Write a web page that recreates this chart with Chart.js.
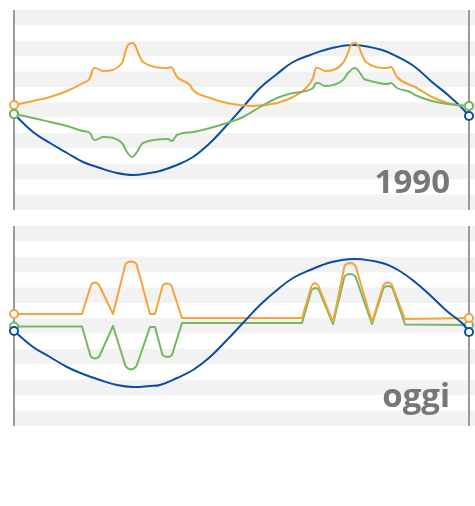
<!DOCTYPE html>
<html>
<head>
<meta charset="utf-8">
<script src="https://cdn.jsdelivr.net/npm/chart.js@4.4.1/dist/chart.umd.min.js"></script>
<style>
  html, body { margin: 0; padding: 0; background: #fff; }
  .panel { position: absolute; left: 0; width: 475px; height: 218px; }
</style>
</head>
<body>
<div class="panel" style="top:0"><canvas id="c1990"></canvas></div>
<div class="panel" style="top:216px"><canvas id="cOggi"></canvas></div>
<script>
// x runs 0..91, y runs 0..100 in each panel
const orange1990 = [[0,52.5],[3.8,54.5],[7.2,56.5],[10.6,59.5],[13.8,63.5],[15.2,66],[15.8,70.5],[16.2,71],[17.8,69.5],
  [21.6,73.5],[22.2,78.5],[22.8,82.5],[23.6,83.5],[24.2,82.5],[25,77.5],[25.8,74],[30.8,71],[31.4,71.5],[32.6,66.5],
  [35.2,62.5],[35.8,60],[39.2,56],[42.6,53.5],[47.8,52],[52.6,53.5],[55.8,56.5],[58.6,61.5],[59.8,66],[60.4,71],
  [60.8,71],[62.2,69.5],[65.8,73.5],[66.8,78.5],[67.4,82.5],[68.2,83.5],[68.8,82.5],[69.6,77.5],[70.4,74],[74.6,71],
  [75.4,71.5],[76.6,66.5],[79.2,62.5],[80.2,61.5],[83.6,56.5],[86.8,53.5],[90.2,52],[91,52]];
const green1990 = [[0,48],[3.8,46],[7.2,44],[10.6,42],[13.8,39.5],[15.2,38.5],[15.8,35.5],[16.2,35],[17.8,36.5],
  [21.6,33.5],[22.6,29],[23.6,26.5],[24.6,29],[25.4,32.5],[25.8,33.5],[30.8,35.5],[31.6,34.5],[32.6,37.5],[35.8,39],
  [39.2,41],[42.6,43.5],[45.8,46.5],[49.2,51.5],[52.6,56],[55.8,58.5],[59.8,61],[60.4,63.5],[60.8,63.5],[62.2,62],
  [65.8,65],[66.8,68.5],[68.2,71],[69.2,68.5],[70,65.5],[70.6,65],[74.6,63],[75.4,63.5],[76.6,61],[79.2,59],
  [80.2,57.5],[83.6,54.5],[86.8,53],[91,52]];
const blue1990 = [[0,48],[3.8,39],[7.2,33.5],[10.6,28.5],[13.8,24],[17.2,21],[20.6,18.5],[23.8,17.5],[27.2,18.5],
  [29.2,19.5],[32.6,22.5],[35.8,26.5],[39.2,33.5],[42.6,42.5],[45.8,51.5],[49.2,61],[52.6,68],[55.8,74],[59.2,77.5],
  [63.6,81],[68.2,82.5],[73.6,80],[76.8,76.5],[80.2,71.5],[83.6,64],[86.8,57.5],[89.6,51],[91,47]];

const orangeOggi = [[0,56],[13.6,56],[15.4,70.5],[15.8,71.5],[16.2,71.75],[16.6,71.5],[17,70.5],[19.8,56],
  [22.3,81],[22.8,82],[23.4,82.25],[24,82],[24.5,81],[27.2,56],[28.2,56],[29.7,70],[30.1,71],[30.6,71.25],[31.1,71],
  [31.5,70],[33.6,54],[57.6,54],[59.5,70],[59.8,71],[60.2,71.5],[60.6,71],[60.9,70],[63.8,52],[66.1,80],[66.6,81.25],
  [67.2,81.5],[67.8,81.25],[68.3,80],[71.6,52],[73.9,70.5],[74.3,71.5],[74.8,71.75],[75.2,71.5],[75.6,70.5],
  [78.2,53.5],[91,54]];
const greenOggi = [[0,49.75],[13.6,49.75],[15.3,35],[15.7,34],[16.2,33.75],[16.7,34],[17.1,35],[19.8,50],
  [22.3,30],[22.8,28.75],[23.4,28.25],[24,28.75],[24.5,30],[27.2,49.5],[28.2,49.5],[29.7,35.5],[30.2,34.75],
  [30.7,34.5],[31.2,34.75],[31.6,35.5],[33.6,51.5],[57.6,51.5],[59.5,68],[59.9,68.75],[60.3,69],[60.7,68.75],
  [61,68],[63.8,51],[66.1,74.75],[66.6,75.75],[67.2,76],[67.8,75.75],[68.3,74.75],[71.6,51],[73.9,69],[74.3,69.75],
  [74.8,70],[75.3,69.75],[75.7,69],[78.2,50.75],[91,50.5]];
const blueOggi = [[0,47.5],[3.8,39.5],[7.2,34.5],[10.6,29.5],[13.8,26],[17.2,23],[20.6,20.5],[23.8,19.5],[27.2,20],
  [29.2,20.5],[32.6,24],[35.8,28],[39.2,34.5],[42.6,43],[45.8,51.5],[49.2,60.5],[52.6,68],[55.8,74],[59.2,78],
  [63.6,82],[68.2,83.5],[73.6,81.5],[76.8,78],[80.2,72],[83.6,64.5],[86.8,57],[89.6,51.5],[91,47]];

const panelLabels = ['1990', 'oggi'];
const ORANGE = '#f6a43a', GREEN = '#74b866', BLUE = '#0b4ea2';

const toPts = (arr) => arr.map(([x, y]) => ({ x, y }));

// stripes, side rules and the big label
const panelDecor = {
  id: 'panelDecor',
  beforeDatasetsDraw(chart, args, opts) {
    const { ctx, chartArea: a, scales: { y } } = chart;
    const bands = 13;
    ctx.save();
    ctx.fillStyle = '#f2f2f2';
    for (let i = 0; i < bands; i += 2) {
      const top = y.getPixelForValue(y.max - (y.max - y.min) * i / bands);
      const bot = y.getPixelForValue(y.max - (y.max - y.min) * (i + 1) / bands);
      ctx.fillRect(a.left, top, chart.width - a.left, bot - top);
    }
    ctx.strokeStyle = '#9a9a9a';
    ctx.lineWidth = 2;
    [a.left, a.right].forEach((px) => {
      ctx.beginPath();
      ctx.moveTo(px, a.top);
      ctx.lineTo(px, a.bottom);
      ctx.stroke();
    });
    ctx.fillStyle = '#777';
    ctx.font = '700 33px "Open Sans"';
    ctx.textAlign = 'right';
    ctx.textBaseline = 'alphabetic';
    ctx.fillText(opts.label, a.right - 19, a.bottom - opts.lift);
    ctx.restore();
  }
};

// mode: 'mono' smooth through points, 'curve' bezier, 'flat' straight segments
function line(data, color, order, mode) {
  const last = data.length - 1;
  return {
    data: toPts(data),
    borderColor: color,
    borderWidth: 2,
    backgroundColor: '#fff',
    pointBackgroundColor: '#fff',
    pointBorderColor: color,
    pointBorderWidth: 2,
    pointRadius: (c) => (c.dataIndex === 0 || c.dataIndex === last ? 4 : 0),
    pointHoverRadius: 0,
    cubicInterpolationMode: mode === 'mono' ? 'monotone' : 'default',
    tension: mode === 'curve' ? 0.4 : 0,
    borderJoinStyle: 'round',
    clip: false,
    order
  };
}

function makeChart(id, datasets, label, lift) {
  new Chart(document.getElementById(id), {
    type: 'line',
    data: { datasets },
    options: {
      responsive: true,
      maintainAspectRatio: false,
      animation: false,
      layout: { padding: { top: 10, bottom: 8, left: 14, right: 6 } },
      scales: {
        x: { type: 'linear', min: 0, max: 91, display: false },
        y: { min: 0, max: 100, display: false }
      },
      plugins: {
        legend: { display: false },
        tooltip: { enabled: false },
        panelDecor: { label, lift }
      }
    },
    plugins: [panelDecor]
  });
}

makeChart('c1990', [
  line(orange1990, ORANGE, 2, 'mono'),
  line(blue1990, BLUE, 3, 'curve'),
  line(green1990, GREEN, 1, 'mono')
], panelLabels[0], 17);

makeChart('cOggi', [
  line(greenOggi, GREEN, 3, 'flat'),
  line(orangeOggi, ORANGE, 2, 'flat'),
  line(blueOggi, BLUE, 1, 'curve')
], panelLabels[1], 19);
</script>
</body>
</html>
